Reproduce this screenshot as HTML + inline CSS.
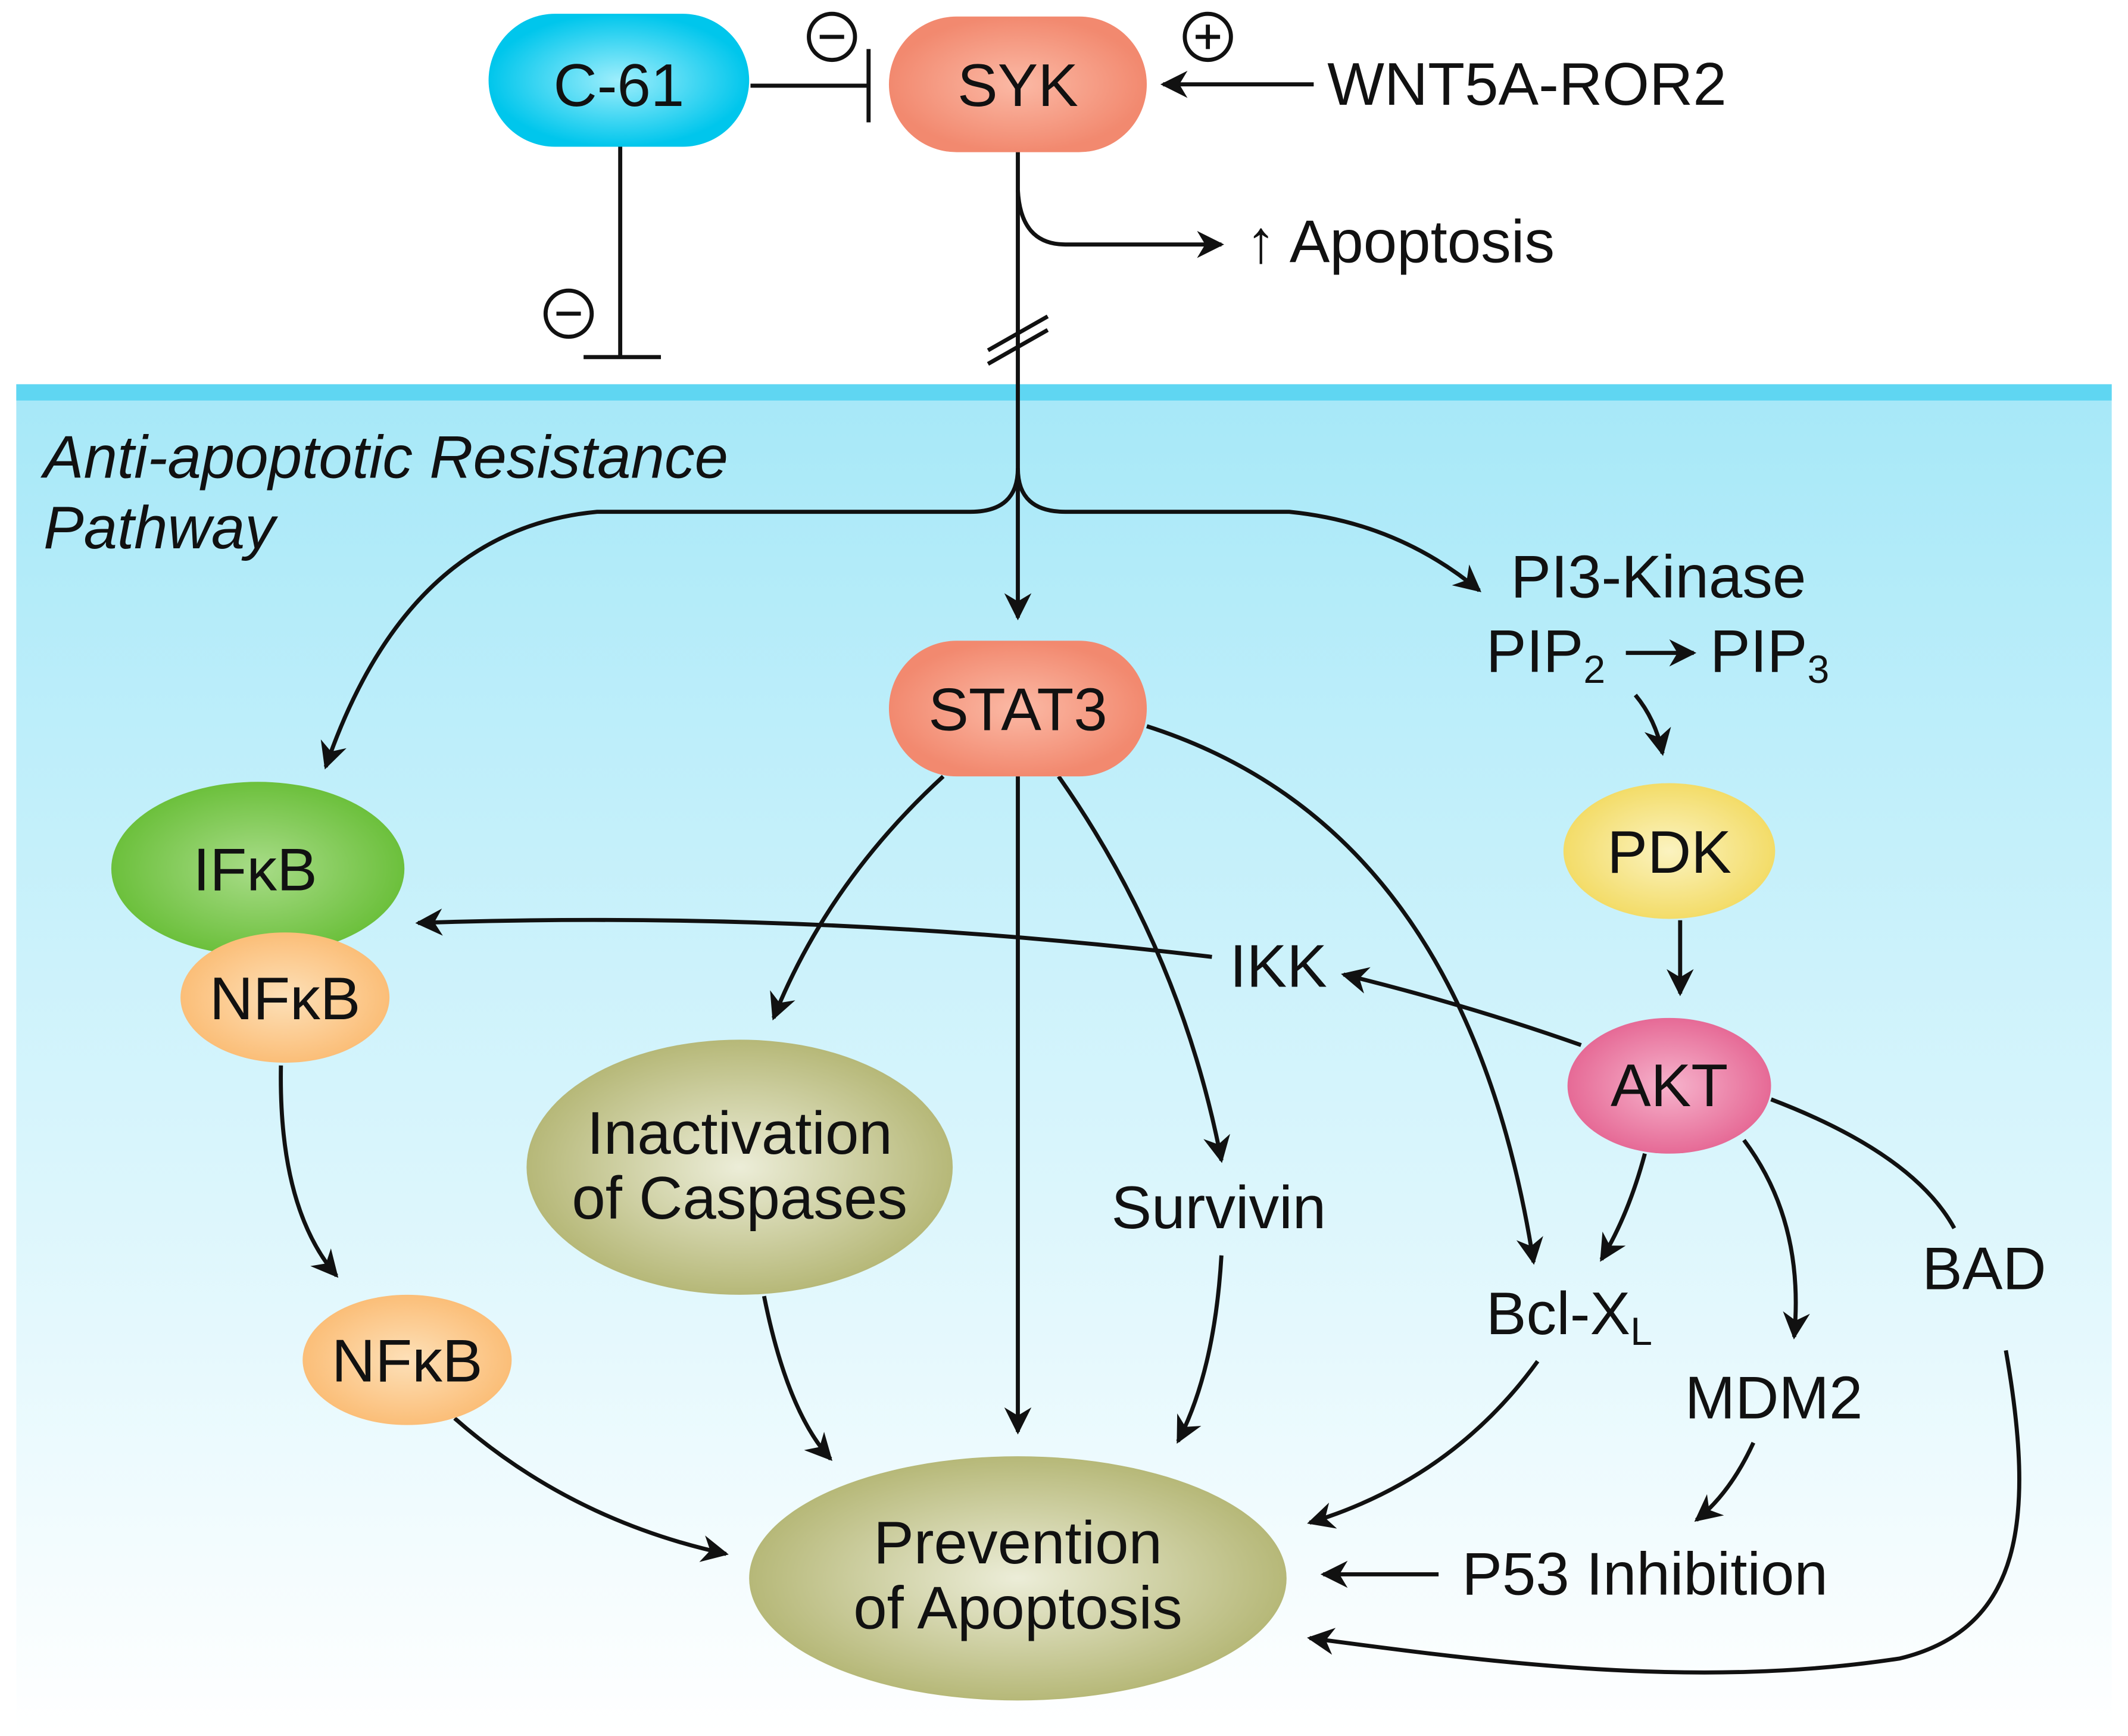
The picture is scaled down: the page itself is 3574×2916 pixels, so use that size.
<!DOCTYPE html>
<html><head><meta charset="utf-8"><style>
html,body{margin:0;padding:0;background:#fff}
svg{display:block}
text{font-family:"Liberation Sans",Arial,sans-serif;fill:#111}
</style></head><body>
<svg width="3574" height="2916" viewBox="0 0 1568 1279" xmlns="http://www.w3.org/2000/svg">
<defs>
<linearGradient id="bg" x1="0" y1="0" x2="0" y2="1">
<stop offset="0" stop-color="#a6e8f8"/><stop offset="1" stop-color="#ffffff"/></linearGradient>
<radialGradient id="cy"><stop offset="0" stop-color="#9eeefc"/><stop offset="1" stop-color="#00c6ec"/></radialGradient>
<radialGradient id="sal"><stop offset="0" stop-color="#fbb9a5"/><stop offset="1" stop-color="#f2896f"/></radialGradient>
<radialGradient id="grn"><stop offset="0" stop-color="#a8dc88"/><stop offset="1" stop-color="#6cc03c"/></radialGradient>
<radialGradient id="org"><stop offset="0" stop-color="#fde0b8"/><stop offset="1" stop-color="#fbbe78"/></radialGradient>
<radialGradient id="yel"><stop offset="0" stop-color="#fbf3c0"/><stop offset="1" stop-color="#f3dc68"/></radialGradient>
<radialGradient id="pnk"><stop offset="0" stop-color="#f6b3cc"/><stop offset="1" stop-color="#e66a96"/></radialGradient>
<radialGradient id="olv"><stop offset="0" stop-color="#ecedd8"/><stop offset="1" stop-color="#b6b878"/></radialGradient>
<marker id="b" viewBox="0 0 10 10" refX="9" refY="5" markerWidth="20" markerHeight="20" markerUnits="userSpaceOnUse" orient="auto">
<path d="M0,0 L10,5 L0,10 L3,5 Z" fill="#111"/></marker>
</defs>
<rect x="12" y="283" width="1544" height="994" fill="url(#bg)"/>
<rect x="12" y="283" width="1544" height="12" fill="#5fd6f2"/>

<g stroke="#111" stroke-width="3" fill="none" marker-end="url(#b)">
<path d="M968,62 L857,62"/>
<path d="M750,112 L750,455"/>
<path d="M750,140 Q752,180 785,180 L900,180"/>
<path d="M750,345 Q750,377 715,377 L440,377 Q300,390 240,565"/>
<path d="M750,345 Q750,377 785,377 L950,377 Q1030,385 1090,435"/>
<path d="M1205,512 Q1220,530 1225,555"/>
<path d="M1238,678 L1238,732"/>
<path d="M695,572 Q610,650 570,750"/>
<path d="M750,572 L750,1055"/>
<path d="M780,572 Q870,700 900,855"/>
<path d="M845,535 Q1080,610 1130,930"/>
<path d="M893,705 Q600,670 308,680"/>
<path d="M1165,770 Q1080,740 990,718"/>
<path d="M1212,850 Q1200,895 1180,928"/>
<path d="M1285,840 Q1330,900 1322,985"/>
<path d="M207,785 Q205,890 248,940"/>
<path d="M335,1045 Q420,1120 535,1145"/>
<path d="M563,955 Q580,1040 612,1075"/>
<path d="M900,925 Q895,1010 868,1062"/>
<path d="M1133,1003 Q1070,1090 965,1122"/>
<path d="M1292,1063 Q1275,1100 1250,1120"/>
<path d="M1060,1160 L975,1160"/>
<path d="M1478,995 C1500,1120 1490,1200 1400,1222 C1250,1245 1100,1225 965,1207"/>
</g>
<g stroke="#111" stroke-width="3" fill="none">
<path d="M553,63 L640,63 M640,36 L640,90"/>
<path d="M457,108 L457,263 M430,263 L487,263"/>
<path d="M1305,810 Q1410,850 1440,905"/>
<path d="M728,258 L772,233 M728,268 L772,243"/>
<circle cx="613" cy="27" r="17"/><circle cx="890" cy="27" r="17"/><circle cx="419" cy="231" r="17"/>
<path d="M604,27 H622 M881,27 H899 M890,18 V36 M410,231 H428"/>
</g>

<rect x="360" y="10" width="192" height="98" rx="49" fill="url(#cy)"/>
<rect x="655" y="12" width="190" height="100" rx="50" fill="url(#sal)"/>
<rect x="655" y="472" width="190" height="100" rx="50" fill="url(#sal)"/>
<ellipse cx="190" cy="640" rx="108" ry="64" fill="url(#grn)"/>
<ellipse cx="210" cy="735" rx="77" ry="48" fill="url(#org)"/>
<ellipse cx="300" cy="1002" rx="77" ry="48" fill="url(#org)"/>
<ellipse cx="1230" cy="627" rx="78" ry="50" fill="url(#yel)"/>
<ellipse cx="1230" cy="800" rx="75" ry="50" fill="url(#pnk)"/>
<ellipse cx="545" cy="860" rx="157" ry="94" fill="url(#olv)"/>
<ellipse cx="750" cy="1163" rx="198" ry="90" fill="url(#olv)"/>

<g font-size="44.5" text-anchor="middle">
<text x="456" y="78">C-61</text>
<text x="750" y="78">SYK</text>
<text x="750" y="538">STAT3</text>
<text x="188" y="656">IFκB</text>
<text x="210" y="751">NFκB</text>
<text x="300" y="1018">NFκB</text>
<text x="1230" y="643">PDK</text>
<text x="1230" y="815">AKT</text>
<text x="545" y="850">Inactivation</text>
<text x="545" y="898">of Caspases</text>
<text x="750" y="1152">Prevention</text>
<text x="750" y="1200">of Apoptosis</text>
<text x="1222" y="440">PI3-Kinase</text>
<text x="942" y="727">IKK</text>
<text x="898" y="905">Survivin</text>
<text x="1307" y="1045">MDM2</text>
<text x="1462" y="950">BAD</text>
<text x="1212" y="1175">P53 Inhibition</text>
</g>
<g font-size="44.5">
<text x="978" y="77">WNT5A-ROR2</text>
<text x="918" y="193">↑ Apoptosis</text>
<text x="1095" y="495">PIP<tspan font-size="29" dy="8">2</tspan></text>
<text x="1260" y="495">PIP<tspan font-size="29" dy="8">3</tspan></text>
<text x="1095" y="983">Bcl-X<tspan font-size="29" dy="8">L</tspan></text>
<text x="32" y="352" font-style="italic">Anti-apoptotic Resistance</text>
<text x="32" y="404" font-style="italic">Pathway</text>
</g>
<path d="M1198,481 L1248,481" stroke="#111" stroke-width="3" marker-end="url(#b)"/>
</svg>
</body></html>
